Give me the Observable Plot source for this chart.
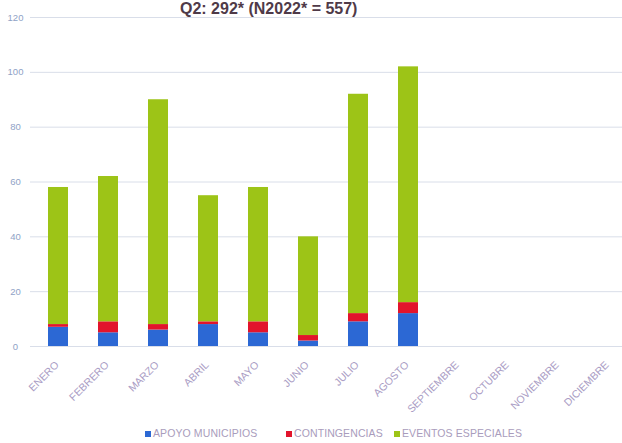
<!DOCTYPE html>
<html>
<head>
<meta charset="utf-8">
<script src="https://cdn.jsdelivr.net/npm/d3@7"></script>
<script src="https://cdn.jsdelivr.net/npm/@observablehq/plot@0.6"></script>
<style>
  html, body { margin: 0; padding: 0; background: #fff; }
  #wrap { width: 622px; height: 443px; position: relative; overflow: hidden; font-family: "Liberation Sans", Arial, sans-serif; }
  #title { height: 16px; position: relative; }
  #title span { position: absolute; left: 180px; top: 2px; font-size: 16px; line-height: 14px; font-weight: bold; color: #4f3a48; white-space: nowrap; }
  #chart { position: relative; z-index: 1; }
  #legend { position: relative; height: 23px; font-size: 10.5px; color: #a99cbc; }
  #legend .item { position: absolute; top: 7px; white-space: nowrap; letter-spacing: 0.1px; }
  #legend .sw { display: inline-block; width: 6px; height: 6px; margin-right: 2px; vertical-align: 0px; }
</style>
</head>
<body>
<div id="wrap">
  <div id="title"><span>Q2: 292* (N2022* = 557)</span></div>
  <div id="chart"></div>
  <div id="legend"></div>
</div>
<script>
const months = ["ENERO","FEBRERO","MARZO","ABRIL","MAYO","JUNIO","JULIO","AGOSTO","SEPTIEMBRE","OCTUBRE","NOVIEMBRE","DICIEMBRE"];
const seriesNames = ["APOYO MUNICIPIOS","CONTINGENCIAS","EVENTOS ESPECIALES"];
const apoyo = [7,5,6,8,5,2,9,12];
const contingencias = [1,4,2,1,4,2,3,4];
const eventos = [50,53,82,46,49,36,80,86];
const yTicks = [0,20,40,60,80,100,120];
const colors = ["#2c68d4","#e2142c","#9dc417"];

const rows = [];
[apoyo, contingencias, eventos].forEach((vals, si) => {
  vals.forEach((v, i) => rows.push({month: months[i], series: seriesNames[si], value: v}));
});

const chart = Plot.plot({
  width: 622,
  height: 404,
  marginTop: 1,
  marginBottom: 74,
  marginLeft: 30,
  marginRight: 0,
  style: { fontFamily: "'Liberation Sans', Arial, sans-serif", background: "transparent", overflow: "visible" },
  x: { type: "band", domain: months, range: [33, 633], paddingInner: 0.6, paddingOuter: 0.3, axis: null },
  y: { domain: [0, 120], axis: null },
  color: { domain: seriesNames, range: colors },
  marks: [
    Plot.ruleY(yTicks, { stroke: "#d9dee9", strokeWidth: 1 }),
    Plot.barY(rows, Plot.stackY({ x: "month", y: "value", fill: "series", order: seriesNames })),
    Plot.text(yTicks, { y: d => d, text: d => String(d), frameAnchor: "left", dx: -15, textAnchor: "middle", fontSize: 9.5, fill: "#8fa2c6" }),
    Plot.text(months, { x: d => d, text: d => d, frameAnchor: "bottom", rotate: -45, textAnchor: "end", dy: 19, dx: 1, fontSize: 10.5, fill: "#a99cc4" })
  ]
});
document.getElementById("chart").appendChild(chart);

const legend = document.getElementById("legend");
const lx = [145, 286, 394];
seriesNames.forEach((name, i) => {
  const it = document.createElement("div");
  it.className = "item";
  it.style.left = lx[i] + "px";
  it.innerHTML = `<span class="sw" style="background:${colors[i]}"></span>${name}`;
  legend.appendChild(it);
});
</script>
</body>
</html>
